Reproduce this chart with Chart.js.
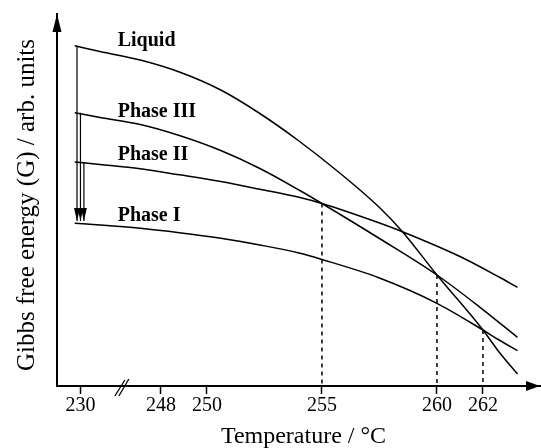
<!DOCTYPE html>
<html>
<head>
<meta charset="utf-8">
<script src="https://cdn.jsdelivr.net/npm/chart.js@4.4.0/dist/chart.umd.min.js"></script>
<style>
  html, body { margin: 0; padding: 0; background: #fff; }
  #wrap { width: 541px; height: 448px; }
</style>
</head>
<body>
<div id="wrap"><canvas id="gibbsChart" width="541" height="448"></canvas></div>
<script>
// axis is broken between 230 and 248: temperatures below 248 get shifted right
const BREAK_SHIFT = 14.5;
const BREAK_AT = 246.3;

const SERIF = "'Liberation Serif', 'Times New Roman', serif";

const xTitle = "Temperature / °C";
const yTitle = "Gibbs free energy (G) / arb. units";

const tickTemps = [230, 248, 250, 255, 260, 262];

const liquidT = [229.75, 230.85, 232.6, 248.8, 250.6, 252.3, 254.0, 255.8, 257.5, 258.5, 260.0, 262.0, 262.7, 263.5];
const liquidG = [34.03, 33.45, 32.6, 31.4, 29.6, 27.25, 24.5, 21.25, 17.85, 15.43, 11.1, 5.6, 3.4, 1.2];

const phase3T = [229.75, 230.85, 232.6, 248.8, 250.6, 252.3, 254.0, 255.0, 257.5, 260.0, 261.9, 263.5];
const phase3G = [27.33, 26.85, 26.15, 25.05, 23.55, 21.75, 19.6, 18.25, 14.75, 11.1, 7.82, 4.87];

const phase2T = [229.75, 230.85, 232.6, 248.8, 250.6, 252.3, 254.0, 255.0, 257.5, 258.5, 261.0, 262.7, 263.5];
const phase2G = [22.4, 22.15, 21.72, 21.12, 20.45, 19.68, 18.87, 18.25, 16.3, 15.43, 12.95, 10.9, 9.87];

const phase1T = [229.75, 230.85, 232.6, 248.8, 250.6, 252.3, 254.0, 255.0, 257.5, 260.0, 262.0, 262.7, 263.5];
const phase1G = [16.27, 16.1, 15.77, 15.33, 14.77, 14.1, 13.3, 12.65, 10.8, 8.27, 5.6, 4.6, 3.53];

// vertical quench arrows from Liquid, Phase III, Phase II down to Phase I
const arrowT = [229.85, 230.0, 230.15];
const arrowFromG = [34.03, 27.33, 22.4];
const arrowToG = 16.5;

// transition temperatures (dashed drop lines)
const transitionT = [255, 260, 262];
const transitionG = [18.25, 11.1, 5.6];

function toAxis(t) {
  return t < 248 ? t + BREAK_SHIFT : t;
}

function tickLabel(v) {
  return String(Math.round(v < 248 ? v - BREAK_SHIFT : v));
}

function pts(ts, gs) {
  return ts.map((t, i) => ({ x: toAxis(t), y: gs[i] }));
}

const curveStyle = {
  showLine: true,
  borderColor: "#000",
  borderWidth: 1.5,
  pointRadius: 0,
  cubicInterpolationMode: "monotone",
  fill: false
};

const curves = [
  { label: "Liquid", data: pts(liquidT, liquidG), labelDy: 0.5 },
  { label: "Phase III", data: pts(phase3T, phase3G), labelDy: 4.5 },
  { label: "Phase II", data: pts(phase2T, phase2G), labelDy: -2 },
  { label: "Phase I", data: pts(phase1T, phase1G), labelDy: -2.5 }
].map((d) => Object.assign({ isCurve: true }, curveStyle, d));

const dropLines = transitionT.map((t, i) => ({
  showLine: true,
  data: [{ x: t, y: transitionG[i] }, { x: t, y: 0 }],
  borderColor: "#000",
  borderWidth: 1.5,
  borderDash: [4, 4],
  pointRadius: 0
}));

const arrows = arrowT.map((t, i) => ({
  showLine: true,
  isArrow: true,
  data: [{ x: toAxis(t), y: arrowFromG[i] }, { x: toAxis(t), y: arrowToG }],
  borderColor: "#000",
  borderWidth: 1.2,
  pointRadius: 0
}));

function fillTri(ctx, a, b, c) {
  ctx.beginPath();
  ctx.moveTo(a[0], a[1]);
  ctx.lineTo(b[0], b[1]);
  ctx.lineTo(c[0], c[1]);
  ctx.closePath();
  ctx.fill();
}

const decorations = {
  id: "decorations",
  afterDatasetsDraw(chart) {
    const { ctx, chartArea, scales } = chart;
    ctx.save();
    ctx.fillStyle = "#000";
    ctx.strokeStyle = "#000";

    // axis arrowheads
    const l = chartArea.left, b = chartArea.bottom;
    fillTri(ctx, [l, chartArea.top], [l - 4.5, chartArea.top + 18], [l + 4.5, chartArea.top + 18]);
    fillTri(ctx, [chartArea.right, b], [chartArea.right - 14, b - 5], [chartArea.right - 14, b + 5]);

    // break mark on the x axis
    const bx = scales.x.getPixelForValue(BREAK_AT);
    ctx.lineWidth = 1.3;
    ctx.beginPath();
    ctx.moveTo(bx - 7, b + 10);
    ctx.lineTo(bx + 3, b - 6);
    ctx.moveTo(bx - 3, b + 10);
    ctx.lineTo(bx + 7, b - 7);
    ctx.stroke();

    // axis titles
    ctx.textAlign = "center";
    ctx.textBaseline = "middle";
    ctx.font = "24px " + SERIF;
    ctx.fillText(xTitle, (chartArea.left + chartArea.right) / 2 + 5, b + 51);
    ctx.save();
    ctx.translate(chartArea.left - 30, (chartArea.top + b) / 2 + 5);
    ctx.rotate(-Math.PI / 2);
    ctx.font = "25px " + SERIF;
    ctx.fillText(yTitle, 0, 0);
    ctx.restore();

    // arrowheads on the quench arrows, phase labels next to curves
    ctx.font = "bold 20px " + SERIF;
    ctx.textBaseline = "alphabetic";
    ctx.textAlign = "left";
    chart.data.datasets.forEach((ds, i) => {
      const meta = chart.getDatasetMeta(i);
      if (ds.isArrow) {
        const p = meta.data[meta.data.length - 1];
        fillTri(ctx, [p.x, p.y], [p.x - 3, p.y - 13], [p.x + 3, p.y - 13]);
      }
      if (ds.isCurve) {
        const p0 = meta.data[0];
        ctx.fillText(ds.label, p0.x + 43, p0.y + ds.labelDy);
      }
    });
    ctx.restore();
  }
};

new Chart(document.getElementById("gibbsChart"), {
  type: "scatter",
  data: { datasets: [...curves, ...dropLines, ...arrows] },
  options: {
    responsive: false,
    animation: false,
    layout: { padding: { top: 14, right: 1, left: 0, bottom: 0 } },
    plugins: {
      legend: { display: false },
      tooltip: { enabled: false }
    },
    scales: {
      x: {
        type: "linear",
        min: 243.48,
        max: 264.48,
        afterBuildTicks: (scale) => {
          scale.ticks = tickTemps.map((t) => ({ value: toAxis(t) }));
        },
        afterFit: (scale) => {
          scale.height = 62;
        },
        ticks: {
          autoSkip: false,
          maxRotation: 0,
          padding: 0,
          color: "#000",
          font: { family: SERIF, size: 20, lineHeight: 1.2 },
          callback: (value) => tickLabel(value)
        },
        grid: {
          drawOnChartArea: false,
          drawTicks: true,
          tickLength: 8,
          tickColor: "#000",
          tickWidth: 1.5
        },
        border: { display: true, color: "#000", width: 2 },
        title: { display: false }
      },
      y: {
        type: "linear",
        min: 0,
        max: 37.2,
        afterFit: (scale) => {
          scale.width = 57;
        },
        ticks: { display: false },
        grid: { display: false, drawTicks: false },
        border: { display: true, color: "#000", width: 2 },
        title: { display: false }
      }
    }
  },
  plugins: [decorations]
});
</script>
</body>
</html>
